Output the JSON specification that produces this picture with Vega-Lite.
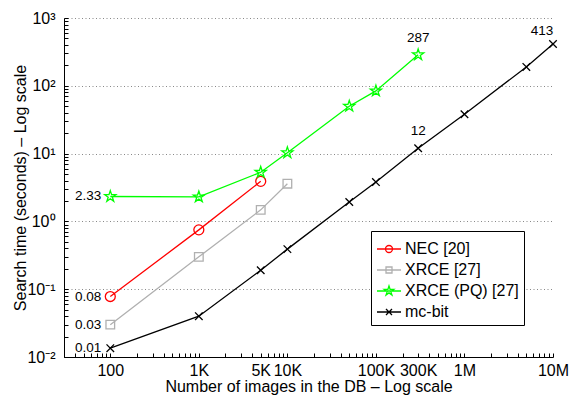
{
  "$schema": "https://vega.github.io/schema/vega-lite/v6.json",
  "width": 489,
  "height": 339,
  "autosize": {"type": "none"},
  "padding": {"left": 64, "top": 18, "right": 19, "bottom": 39},
  "background": "white",
  "config": {
    "view": {"stroke": null},
    "font": "Liberation Sans",
    "axis": {
      "domainColor": "#000",
      "domainWidth": 1,
      "tickColor": "#000",
      "tickWidth": 1,
      "tickSize": -4,
      "labelColor": "#000",
      "titleColor": "#000",
      "labelFont": "Liberation Sans",
      "titleFont": "Liberation Sans",
      "labelFontSize": 16,
      "titleFontSize": 16,
      "titleFontWeight": "normal",
      "labelOverlap": false,
      "labelFlush": false
    }
  },
  "datasets": {
    "times": [
      {"series": "NEC [20]", "n": 100, "t": 0.078},
      {"series": "NEC [20]", "n": 1000, "t": 0.75},
      {"series": "NEC [20]", "n": 5000, "t": 3.9},
      {"series": "XRCE [27]", "n": 100, "t": 0.03},
      {"series": "XRCE [27]", "n": 1000, "t": 0.3},
      {"series": "XRCE [27]", "n": 5000, "t": 1.48},
      {"series": "XRCE [27]", "n": 10000, "t": 3.6},
      {"series": "XRCE (PQ) [27]", "n": 100, "t": 2.33},
      {"series": "XRCE (PQ) [27]", "n": 1000, "t": 2.3},
      {"series": "XRCE (PQ) [27]", "n": 5000, "t": 5.3},
      {"series": "XRCE (PQ) [27]", "n": 10000, "t": 10.3},
      {"series": "XRCE (PQ) [27]", "n": 50000, "t": 50},
      {"series": "XRCE (PQ) [27]", "n": 100000, "t": 84},
      {"series": "XRCE (PQ) [27]", "n": 300000, "t": 287},
      {"series": "mc-bit", "n": 100, "t": 0.0135},
      {"series": "mc-bit", "n": 1000, "t": 0.04},
      {"series": "mc-bit", "n": 5000, "t": 0.19},
      {"series": "mc-bit", "n": 10000, "t": 0.39},
      {"series": "mc-bit", "n": 50000, "t": 1.93},
      {"series": "mc-bit", "n": 100000, "t": 3.8},
      {"series": "mc-bit", "n": 300000, "t": 12},
      {"series": "mc-bit", "n": 1000000, "t": 38},
      {"series": "mc-bit", "n": 5000000, "t": 190},
      {"series": "mc-bit", "n": 10000000, "t": 413}
    ],
    "notes": [
      {"n": 100, "t": 2.33, "text": "2.33"},
      {"n": 100, "t": 0.078, "text": "0.08"},
      {"n": 100, "t": 0.03, "text": "0.03"},
      {"n": 100, "t": 0.0135, "text": "0.01"},
      {"n": 300000, "t": 287, "text": "287"},
      {"n": 300000, "t": 12, "text": "12"},
      {"n": 10000000, "t": 413, "text": "413"}
    ]
  },
  "encoding": {
    "x": {
      "field": "n",
      "type": "quantitative",
      "scale": {"type": "log", "domain": [30, 10000000], "nice": false},
      "axis": {
        "title": "Number of images in the DB – Log scale",
        "grid": false,
        "values": [30,40,50,60,70,80,90,100,200,300,400,500,600,700,800,900,1000,2000,3000,4000,5000,6000,7000,8000,9000,10000,20000,30000,40000,50000,60000,70000,80000,90000,100000,200000,300000,400000,500000,600000,700000,800000,900000,1000000,2000000,3000000,4000000,5000000,6000000,7000000,8000000,9000000,10000000],
        "labelExpr": "datum.value==100?'100':datum.value==1000?'1K':datum.value==5000?'5K':datum.value==10000?'10K':datum.value==100000?'100K':datum.value==300000?'300K':datum.value==1000000?'1M':datum.value==10000000?'10M':''",
        "labelPadding": 9,
        "titleY": 34,
        "titleBaseline": "alphabetic"
      }
    },
    "y": {
      "field": "t",
      "type": "quantitative",
      "scale": {"type": "log", "domain": [0.01, 1000], "nice": false},
      "axis": {
        "title": "Search time (seconds) – Log scale",
        "values": [0.01,0.02,0.03,0.04,0.05,0.06,0.07,0.08,0.09,0.1,0.2,0.3,0.4,0.5,0.6,0.7,0.8,0.9,1,2,3,4,5,6,7,8,9,10,20,30,40,50,60,70,80,90,100,200,300,400,500,600,700,800,900,1000],
        "labelExpr": "abs(log(datum.value)/LN10 - round(log(datum.value)/LN10)) < 0.001 ? '10' + ['⁻²','⁻¹','⁰','¹','²','³'][round(log(datum.value)/LN10)+2] : ''",
        "grid": true,
        "gridColor": "#888",
        "gridDash": [1, 2.5],
        "gridWidth": 1,
        "gridOpacity": {"condition": {"test": "abs(log(datum.value)/LN10 - round(log(datum.value)/LN10)) < 0.001", "value": 1}, "value": 0},
        "labelPadding": 13,
        "titleX": -39,
        "titleBaseline": "alphabetic"
      }
    }
  },
  "layer": [
    {
      "data": {"name": "times"},
      "mark": {"type": "line", "strokeWidth": 1.3},
      "encoding": {
        "color": {
          "field": "series",
          "type": "nominal",
          "scale": {"domain": ["NEC [20]", "XRCE [27]", "XRCE (PQ) [27]", "mc-bit"], "range": ["#ff0000", "#b0b0b0", "#00ff00", "#000000"]},
          "legend": null
        }
      }
    },
    {
      "data": {"name": "times"},
      "mark": {"type": "point", "filled": false, "size": 144, "strokeWidth": 1.3, "opacity": 1},
      "encoding": {
        "color": {
          "field": "series",
          "type": "nominal",
          "scale": {"domain": ["NEC [20]", "XRCE [27]", "XRCE (PQ) [27]", "mc-bit"], "range": ["#ff0000", "#b0b0b0", "#00ff00", "#000000"]},
          "legend": null
        },
        "shape": {
          "field": "series",
          "type": "nominal",
          "scale": {"domain": ["NEC [20]", "XRCE [27]", "XRCE (PQ) [27]", "mc-bit"], "range": [
            "M0.83,0A0.83,0.83 0 1 1 -0.83,0A0.83,0.83 0 1 1 0.83,0Z",
            "M-0.72,-0.72H0.72V0.72H-0.72Z",
            "M0,-0.97L0.218,-0.3L0.922,-0.3L0.352,0.114L0.57,0.785L0,0.371L-0.57,0.785L-0.352,0.114L-0.922,-0.3L-0.218,-0.3Z",
            "M-0.63,-0.63L0.63,0.63M-0.63,0.63L0.63,-0.63"
          ]},
          "legend": null
        }
      }
    },
    {
      "data": {"name": "times"},
      "transform": [{"filter": "datum.n == 100"}],
      "mark": {"type": "point", "filled": false, "size": 576, "strokeWidth": 1.3, "opacity": 0},
      "encoding": {
        "color": {
          "field": "series",
          "type": "nominal",
          "scale": {"domain": ["NEC [20]", "XRCE [27]", "XRCE (PQ) [27]", "mc-bit"], "range": ["#ff0000", "#b0b0b0", "#00ff00", "#000000"]},
          "legend": {
            "title": null,
            "orient": "none",
            "legendX": 307,
            "legendY": 213,
            "padding": 5,
            "strokeColor": "#000",
            "fillColor": "#fff",
            "cornerRadius": 0,
            "symbolSize": 576,
            "symbolStrokeWidth": 1.3,
            "symbolOpacity": 1,
            "labelFont": "Liberation Sans",
            "labelFontSize": 16,
            "labelColor": "#000",
            "labelOffset": 3,
            "rowPadding": -3
          }
        },
        "shape": {
          "field": "series",
          "type": "nominal",
          "scale": {"domain": ["NEC [20]", "XRCE [27]", "XRCE (PQ) [27]", "mc-bit"], "range": [
            "M-1,0H1M0.29,0A0.29,0.29 0 1 1 -0.29,0A0.29,0.29 0 1 1 0.29,0Z",
            "M-1,0H1M-0.25,-0.25H0.25V0.25H-0.25Z",
            "M-1,0H1M0,-0.42L0.094,-0.13L0.4,-0.13L0.152,0.049L0.247,0.34L0,0.16L-0.247,0.34L-0.152,0.049L-0.4,-0.13L-0.094,-0.13Z",
            "M-1,0H1M-0.25,-0.25L0.25,0.25M-0.25,0.25L0.25,-0.25"
          ]}
        }
      }
    },
    {
      "data": {"name": "notes"},
      "transform": [{"filter": "datum.n == 100"}],
      "mark": {"type": "text", "align": "right", "baseline": "middle", "dx": -9, "fontSize": 13.5, "font": "Liberation Sans", "color": "#000"},
      "encoding": {"text": {"field": "text"}}
    },
    {
      "data": {"name": "notes"},
      "transform": [{"filter": "datum.n == 300000"}],
      "mark": {"type": "text", "align": "center", "baseline": "middle", "dy": -17, "fontSize": 13.5, "font": "Liberation Sans", "color": "#000"},
      "encoding": {"text": {"field": "text"}}
    },
    {
      "data": {"name": "notes"},
      "transform": [{"filter": "datum.n == 10000000"}],
      "mark": {"type": "text", "align": "center", "baseline": "middle", "dx": -11, "dy": -13, "fontSize": 13.5, "font": "Liberation Sans", "color": "#000"},
      "encoding": {"text": {"field": "text"}}
    }
  ],
  "resolve": {"scale": {"color": "independent", "shape": "independent"}}
}
